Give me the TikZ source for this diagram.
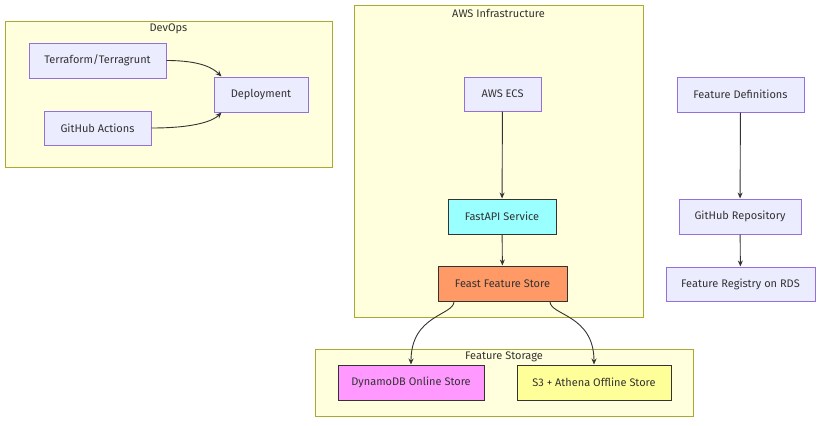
\documentclass[tikz,border=0pt]{standalone}
\usepackage{fontspec}
\setmainfont{Fira Sans}
\usetikzlibrary{arrows.meta,calc}
\definecolor{nodefill}{HTML}{ECECFF}
\definecolor{nodestroke}{HTML}{9370DB}
\definecolor{clfill}{HTML}{FFFFDE}
\definecolor{clstroke}{HTML}{AAAA33}
\definecolor{edge}{HTML}{333333}
\definecolor{cyanfill}{HTML}{99FFFF}
\definecolor{orangefill}{HTML}{FF9966}
\definecolor{pinkfill}{HTML}{FF99FF}
\definecolor{yellowfill}{HTML}{FFFF99}
\tikzset{
  box/.style={draw=nodestroke, fill=nodefill, line width=1pt, inner sep=0pt,
    minimum height=35pt, font=\fontsize{11}{13}\selectfont, text=edge},
  dark/.style={box, draw=edge},
  cluster/.style={draw=clstroke, fill=clfill, line width=1pt},
  cltitle/.style={font=\fontsize{11}{13}\selectfont, text=edge},
  conn/.style={draw=edge, line width=0.9pt, -{Stealth[length=6pt,width=5pt]}}
}
\begin{document}
\begin{tikzpicture}[x=1pt,y=-1pt]
\useasboundingbox (0,0) rectangle (828,426);
% clusters
\draw[cluster] (5,21) rectangle (332,167);
\node[cltitle] (tdevops) at (168.5,29) {DevOps};
\draw[cluster] (354,5) rectangle (643,317);
\node[cltitle] (taws) at (498.5,13) {AWS Infrastructure};
\draw[cluster] (315,349) rectangle (693,416);
\node[cltitle] (tstor) at (504,357) {Feature Storage};
% nodes
\node[box, minimum width=137pt] (tf) at (97.5,60.5) {Terraform/Terragrunt};
\node[box, minimum width=107pt, minimum height=34pt] (gha) at (97.5,128) {GitHub Actions};
\node[box, minimum width=94pt] (dep) at (261,94.5) {Deployment};
\node[box, minimum width=77pt, minimum height=34pt] (ecs) at (502.5,94) {AWS ECS};
\node[dark, fill=cyanfill, minimum width=108pt] (api) at (502,216.5) {FastAPI Service};
\node[dark, fill=orangefill, minimum width=129pt] (feast) at (502.5,283.5) {Feast Feature Store};
\node[dark, fill=pinkfill, minimum width=146pt] (dyn) at (411,382.5) {DynamoDB Online Store};
\node[dark, fill=yellowfill, minimum width=154pt] (s3) at (594,382.5) {S3 + Athena Offline Store};
\node[box, minimum width=127pt] (fdef) at (740.5,94.5) {Feature Definitions};
\node[box, minimum width=122pt] (repo) at (740,216.5) {GitHub Repository};
\node[box, minimum width=149pt, minimum height=34pt] (reg) at (740.5,284) {Feature Registry on RDS};
% edges
\draw[conn] (tf.east) .. controls ($(tf.east)+(35,0)$) and ($(dep.north west)+(0,-8)$) .. ($(dep.north west)+(8,0)$);
\draw[conn] (gha.east) .. controls ($(gha.east)+(45,0)$) and ($(dep.south west)+(0,8)$) .. ($(dep.south west)+(8,0)$);
\draw[conn] (ecs) -- (api);
\draw[conn] (api) -- (feast);
\draw[conn] ([xshift=-48.5pt]feast.south) .. controls ([xshift=-48.5pt,yshift=-14pt]feast.south) and ($(dyn.north)+(0,-50)$) .. (dyn.north);
\draw[conn] ([xshift=47.5pt]feast.south) .. controls ([xshift=47.5pt,yshift=-14pt]feast.south) and ($(s3.north)+(0,-50)$) .. (s3.north);
\draw[conn] (fdef) -- (repo);
\draw[conn] (repo) -- (reg);
\end{tikzpicture}
\end{document}
